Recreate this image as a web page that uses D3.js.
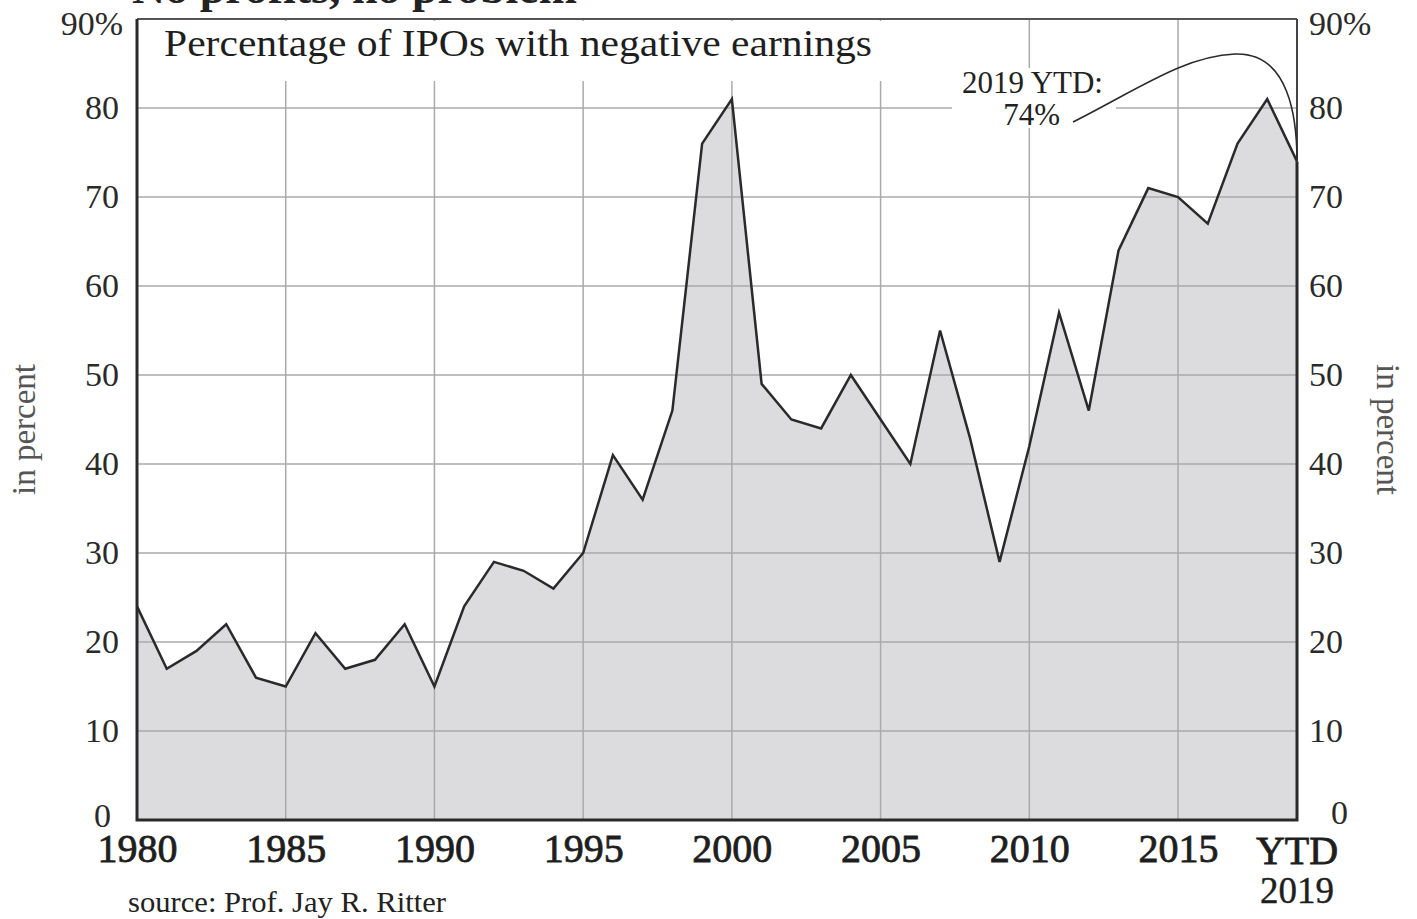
<!DOCTYPE html>
<html>
<head>
<meta charset="utf-8">
<script src="https://cdn.jsdelivr.net/npm/d3@7"></script>
<style>
  body { margin: 0; background: #fff; }
  text { font-family: "Liberation Serif", "DejaVu Serif", serif; }
</style>
</head>
<body>
<script>
// Data: percentage of IPOs with negative earnings (2019 = year to date)
const years = d3.range(1980, 2020);
const pctNegative = [
  24, 17, 19, 22, 16, 15, 21, 17, 18, 22,
  15, 24, 29, 28, 26, 30, 41, 36, 46, 76,
  81, 49, 45, 44, 50, 45, 40, 55, 43, 29,
  42, 57, 46, 64, 71, 70, 67, 76, 81, 74
];
const xTicks = [1980, 1985, 1990, 1995, 2000, 2005, 2010, 2015];
const yTicks = [0, 10, 20, 30, 40, 50, 60, 70, 80, 90];

const data = years.map((y, i) => ({ year: y, value: pctNegative[i] }));

const width = 1417, height = 919;
const margin = { top: 19, right: 120, bottom: 99, left: 137 };

const svg = d3.select('body').append('svg')
  .attr('width', width)
  .attr('height', height);

const x = d3.scaleLinear()
  .domain([1980, 2019])
  .range([margin.left, width - margin.right]);

const y = d3.scaleLinear()
  .domain([0, 90])
  .range([height - margin.bottom, margin.top]);

// partly cut off headline at the very top
svg.append('text')
  .attr('x', 132).attr('y', 3)
  .attr('font-size', 44).attr('font-weight', 'bold')
  .attr('fill', '#222')
  .attr('textLength', 445).attr('lengthAdjust', 'spacingAndGlyphs')
  .text('No profits, no problem');

// area under the line
const area = d3.area()
  .x(d => x(d.year))
  .y0(y(0))
  .y1(d => y(d.value));

svg.append('path')
  .datum(data)
  .attr('d', area)
  .attr('fill', '#dcdcdf');

// gridlines, drawn over the fill
const grid = svg.append('g')
  .attr('stroke', '#aaa')
  .attr('stroke-width', 1.5);

grid.selectAll('line.h')
  .data(yTicks.filter(v => v > 0 && v < 90))
  .join('line')
  .attr('x1', x(1980)).attr('x2', x(2019))
  .attr('y1', d => y(d)).attr('y2', d => y(d));

grid.selectAll('line.v')
  .data(xTicks.filter(v => v > 1980))
  .join('line')
  .attr('x1', d => x(d)).attr('x2', d => x(d))
  .attr('y1', y(90)).attr('y2', y(0));

// the line itself
const line = d3.line()
  .x(d => x(d.year))
  .y(d => y(d.value));

svg.append('path')
  .datum(data)
  .attr('d', line)
  .attr('fill', 'none')
  .attr('stroke', '#2a2a2a')
  .attr('stroke-width', 2.5)
  .attr('stroke-linejoin', 'miter');

// frame
svg.append('line')
  .attr('x1', x(1980)).attr('x2', x(2019))
  .attr('y1', y(90)).attr('y2', y(90))
  .attr('stroke', '#555').attr('stroke-width', 2);
svg.append('line')
  .attr('x1', x(2019)).attr('x2', x(2019))
  .attr('y1', y(90)).attr('y2', y(pctNegative[pctNegative.length - 1]))
  .attr('stroke', '#444').attr('stroke-width', 2);
svg.append('path')
  .attr('d', `M${x(1980)},${y(90)}V${y(0)}H${x(2019)}V${y(pctNegative[pctNegative.length - 1])}`)
  .attr('fill', 'none')
  .attr('stroke', '#2a2a2a')
  .attr('stroke-width', 3);

// title box, masks the gridlines behind it
svg.append('rect')
  .attr('x', 152).attr('y', y(90) + 2)
  .attr('width', 732).attr('height', 60)
  .attr('fill', '#fff');
svg.append('text')
  .attr('x', 164).attr('y', 56)
  .attr('font-size', 37)
  .attr('fill', '#1e1e1e')
  .attr('textLength', 708).attr('lengthAdjust', 'spacingAndGlyphs')
  .text('Percentage of IPOs with negative earnings');

// annotation for 2019 YTD
const last = data[data.length - 1];
svg.append('rect')
  .attr('x', 952).attr('y', 68)
  .attr('width', 164).attr('height', 60)
  .attr('fill', '#fff');
const ann = svg.append('g')
  .attr('font-size', 31)
  .attr('fill', '#222')
  .attr('text-anchor', 'end');
ann.append('text').attr('x', 1103).attr('y', 93).text('2019 YTD:');
ann.append('text').attr('x', 1060).attr('y', 125).text(`${last.value}%`);

const ex = x(last.year), ey = y(last.value);
const p = d3.path();
p.moveTo(1073, 122);
p.bezierCurveTo(1140, 88, 1185, 56, 1235, 54);
p.bezierCurveTo(1290, 52, ex, 120, ex, ey);
svg.append('path')
  .attr('d', p.toString())
  .attr('fill', 'none')
  .attr('stroke', '#2a2a2a')
  .attr('stroke-width', 1.6);

// y axes (left and right)
const yFmt = d => d === 90 ? '90%' : d;

const yLeft = svg.append('g')
  .attr('transform', `translate(${x(1980)},0)`)
  .call(d3.axisLeft(y).tickValues(yTicks).tickSize(0).tickPadding(18).tickFormat(yFmt));
yLeft.select('.domain').remove();
yLeft.selectAll('text')
  .attr('font-size', 34)
  .attr('fill', '#2a2a2a')
  .attr('font-family', '"Liberation Serif", serif');
yLeft.selectAll('.tick').filter(d => d === 90).select('text')
  .attr('dx', 4).attr('dy', '0.45em');
yLeft.selectAll('.tick').filter(d => d === 0).select('text')
  .attr('dx', -8).attr('dy', '0.2em');

const yRight = svg.append('g')
  .attr('transform', `translate(${x(2019)},0)`)
  .call(d3.axisRight(y).tickValues(yTicks).tickSize(0).tickPadding(12).tickFormat(yFmt));
yRight.select('.domain').remove();
yRight.selectAll('text')
  .attr('font-size', 34)
  .attr('fill', '#2a2a2a')
  .attr('font-family', '"Liberation Serif", serif');
yRight.selectAll('.tick').filter(d => d === 90).select('text')
  .attr('dy', '0.45em');
yRight.selectAll('.tick').filter(d => d === 0).select('text')
  .attr('dx', 22).attr('dy', '0.1em');

// x axis
const xAxis = svg.append('g')
  .attr('transform', `translate(0,${y(0)})`)
  .call(d3.axisBottom(x).tickValues(xTicks).tickSize(0).tickPadding(14).tickFormat(d3.format('d')));
xAxis.select('.domain').remove();
xAxis.selectAll('text')
  .attr('font-size', 40)
  .attr('fill', '#1e1e1e')
  .attr('stroke', '#1e1e1e').attr('stroke-width', 0.8)
  .attr('font-family', '"Liberation Serif", serif');

const ytd = svg.append('g')
  .attr('fill', '#1e1e1e')
  .attr('stroke', '#1e1e1e')
  .attr('text-anchor', 'middle');
ytd.append('text').attr('x', x(2019)).attr('y', 864)
  .attr('font-size', 40).attr('stroke-width', 0.8).text('YTD');
ytd.append('text').attr('x', x(2019)).attr('y', 903)
  .attr('font-size', 37).attr('stroke-width', 0.4).text('2019');

// axis titles
svg.append('text')
  .attr('transform', `translate(35,${(y(0) + y(90)) / 2 + 10}) rotate(-90)`)
  .attr('text-anchor', 'middle')
  .attr('font-size', 33)
  .attr('fill', '#555')
  .text('in percent');
svg.append('text')
  .attr('transform', `translate(1377,${(y(0) + y(90)) / 2 + 10}) rotate(90)`)
  .attr('text-anchor', 'middle')
  .attr('font-size', 33)
  .attr('fill', '#555')
  .text('in percent');

// source line
svg.append('text')
  .attr('x', 128).attr('y', 912)
  .attr('font-size', 30)
  .attr('fill', '#222')
  .attr('textLength', 318).attr('lengthAdjust', 'spacingAndGlyphs')
  .text('source: Prof. Jay R. Ritter');
</script>
</body>
</html>
